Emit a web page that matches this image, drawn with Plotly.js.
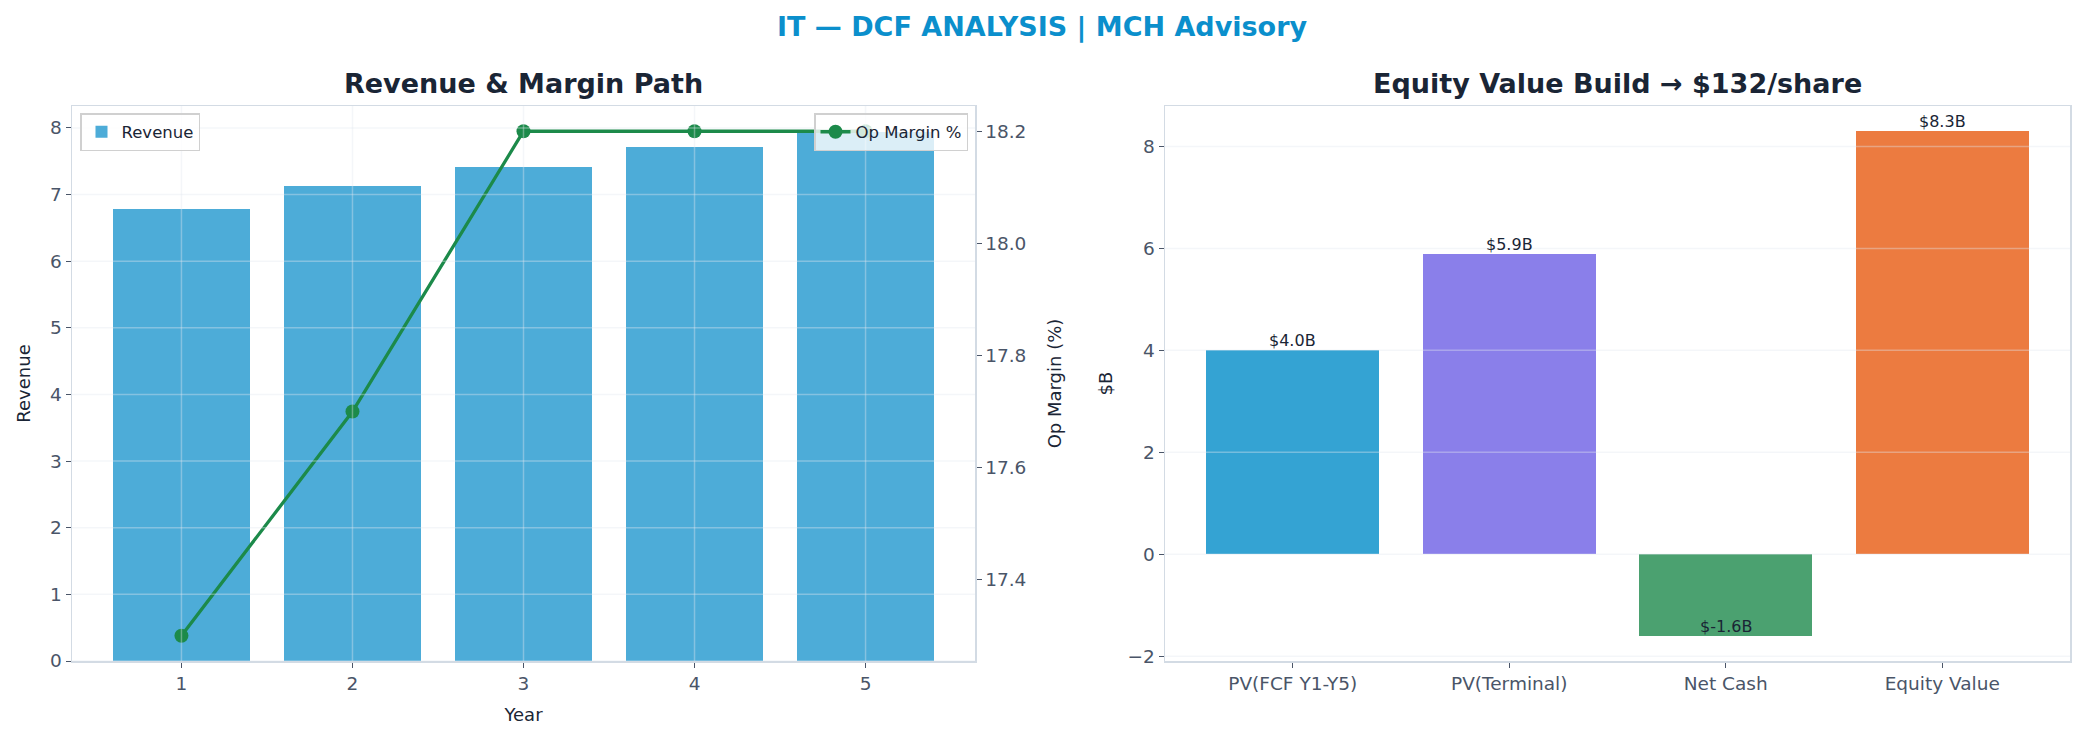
<!DOCTYPE html>
<html>
<head>
<meta charset="utf-8">
<script src="https://cdn.plot.ly/plotly-3.0.1.min.js"></script>
<style>
  html, body { margin: 0; padding: 0; background: #ffffff; }
  #plot { width: 2084px; height: 742px; }
</style>
</head>
<body>
<div id="plot"></div>
<script>
// revenue & margin path
var years = [1, 2, 3, 4, 5];
var revenue = [6.79, 7.13, 7.42, 7.72, 7.94];
var opMargin = [17.3, 17.7, 18.2, 18.2, 18.2];
var revTicks = [0, 1, 2, 3, 4, 5, 6, 7, 8];
var marginTicks = [17.4, 17.6, 17.8, 18.0, 18.2];

// equity value build
var buildLabels = ['PV(FCF Y1-Y5)', 'PV(Terminal)', 'Net Cash', 'Equity Value'];
var buildValues = [4.0, 5.9, -1.6, 8.3];
var buildColors = ['#34a3d3', '#8a7fea', '#4ba170', '#ec7b40'];
var buildTicks = [-2, 0, 2, 4, 6, 8];

var FONT = 'DejaVu Sans';
var TICK = '#4a5568';
var DARK = '#1a2535';
var SPINE = '#d3dbe4';
var GRID = 'rgba(226,232,240,0.38)';

function fmtB(v) {
  return '$' + v.toFixed(1) + 'B';
}

var revTrace = {
  x: years,
  y: revenue,
  type: 'bar',
  name: 'Revenue',
  width: 0.8,
  marker: { color: '#4dacd8' },
  xaxis: 'x', yaxis: 'y',
  legend: 'legend'
};

var marginTrace = {
  x: years,
  y: opMargin,
  type: 'scatter',
  mode: 'lines+markers',
  name: 'Op Margin %',
  line: { color: '#1c8a4a', width: 3.3 },
  marker: { color: '#1c8a4a', size: 14 },
  xaxis: 'x', yaxis: 'y2',
  legend: 'legend2'
};

var buildTrace = {
  x: buildLabels,
  y: buildValues,
  type: 'bar',
  width: 0.8,
  marker: { color: buildColors },
  showlegend: false,
  xaxis: 'x3', yaxis: 'y3'
};

// bar value labels sit on the value end of each bar
var labels = buildLabels.map(function (lab, i) {
  return {
    x: lab, y: buildValues[i], xref: 'x3', yref: 'y3',
    text: fmtB(buildValues[i]), showarrow: false,
    yanchor: 'bottom', yshift: -2,
    font: { family: FONT, size: 16, color: DARK }
  };
});

// grid drawn over the bars, like the matplotlib original
var grid = [];
revTicks.forEach(function (t) {
  grid.push({ type: 'line', layer: 'above', xref: 'x domain', yref: 'y',
    x0: 0, x1: 1, y0: t, y1: t, line: { color: GRID, width: 1.5 } });
});
years.forEach(function (t) {
  grid.push({ type: 'line', layer: 'above', xref: 'x', yref: 'y domain',
    x0: t, x1: t, y0: 0, y1: 1, line: { color: GRID, width: 1.5 } });
});
buildTicks.forEach(function (t) {
  grid.push({ type: 'line', layer: 'above', xref: 'x3 domain', yref: 'y3',
    x0: 0, x1: 1, y0: t, y1: t, line: { color: GRID, width: 1.5 } });
});

var axBase = {
  showline: true, mirror: true, linecolor: SPINE, linewidth: 1.5,
  ticks: 'outside', ticklen: 5, tickwidth: 1, tickcolor: TICK,
  tickfont: { family: FONT, size: 18.5, color: TICK },
  zeroline: false, showgrid: false, layer: 'above traces',
  automargin: false
};

function ax(extra) {
  return Object.assign({}, axBase, extra);
}

function axTitle(text, standoff) {
  return { text: text, font: { family: FONT, size: 18, color: DARK }, standoff: standoff };
}

var layout = {
  width: 2084,
  height: 742,
  paper_bgcolor: '#ffffff',
  plot_bgcolor: '#ffffff',
  margin: { l: 0, r: 0, t: 0, b: 0 },
  font: { family: FONT, color: DARK },
  showlegend: true,
  bargap: 0,
  title: {
    text: 'IT — DCF ANALYSIS | MCH Advisory',
    x: 0.5, xanchor: 'center',
    y: 1 - 27 / 742, yanchor: 'middle',
    font: { family: FONT, size: 27, color: '#0b8fcc', weight: 'bold' }
  },
  xaxis: ax({
    domain: [72 / 2084, 975 / 2084],
    range: [0.36, 5.64],
    tickvals: years,
    anchor: 'y',
    title: axTitle('Year', 15)
  }),
  yaxis: ax({
    domain: [1 - 661 / 742, 1 - 106 / 742],
    range: [0, 8.33],
    tickvals: revTicks,
    anchor: 'x',
    title: axTitle('Revenue', 14)
  }),
  yaxis2: ax({
    overlaying: 'y',
    side: 'right',
    anchor: 'x',
    range: [17.255, 18.245],
    tickvals: marginTicks,
    tickformat: '.1f',
    mirror: false,
    title: axTitle('Op Margin (%)', 23)
  }),
  xaxis3: ax({
    domain: [1165 / 2084, 2070 / 2084],
    range: [-0.59, 3.59],
    anchor: 'y3'
  }),
  yaxis3: ax({
    domain: [1 - 661 / 742, 1 - 106 / 742],
    range: [-2.095, 8.795],
    tickvals: buildTicks,
    anchor: 'x3',
    title: axTitle('$B', 10)
  }),
  legend: {
    x: 80 / 2084, y: 1 - 113 / 742, xanchor: 'left', yanchor: 'top',
    bgcolor: 'rgba(255,255,255,0.8)', bordercolor: '#d0d0d0', borderwidth: 1.5,
    font: { family: FONT, size: 16.5, color: DARK }
  },
  legend2: {
    x: 968 / 2084, y: 1 - 113 / 742, xanchor: 'right', yanchor: 'top',
    bgcolor: 'rgba(255,255,255,0.8)', bordercolor: '#d0d0d0', borderwidth: 1.5,
    font: { family: FONT, size: 16.5, color: DARK }
  },
  shapes: grid,
  annotations: [
    {
      text: 'Revenue & Margin Path', xref: 'paper', yref: 'paper',
      x: (72 + 975) / 2 / 2084, y: 1 - 84 / 742, xanchor: 'center', yanchor: 'middle',
      showarrow: false, font: { family: FONT, size: 27, color: DARK, weight: 'bold' }
    },
    {
      text: 'Equity Value Build → $132/share', xref: 'paper', yref: 'paper',
      x: (1165 + 2070) / 2 / 2084, y: 1 - 84 / 742, xanchor: 'center', yanchor: 'middle',
      showarrow: false, font: { family: FONT, size: 27, color: DARK, weight: 'bold' }
    }
  ].concat(labels)
};

Plotly.newPlot('plot', [revTrace, marginTrace, buildTrace], layout, { displayModeBar: false, staticPlot: true });
</script>
</body>
</html>
